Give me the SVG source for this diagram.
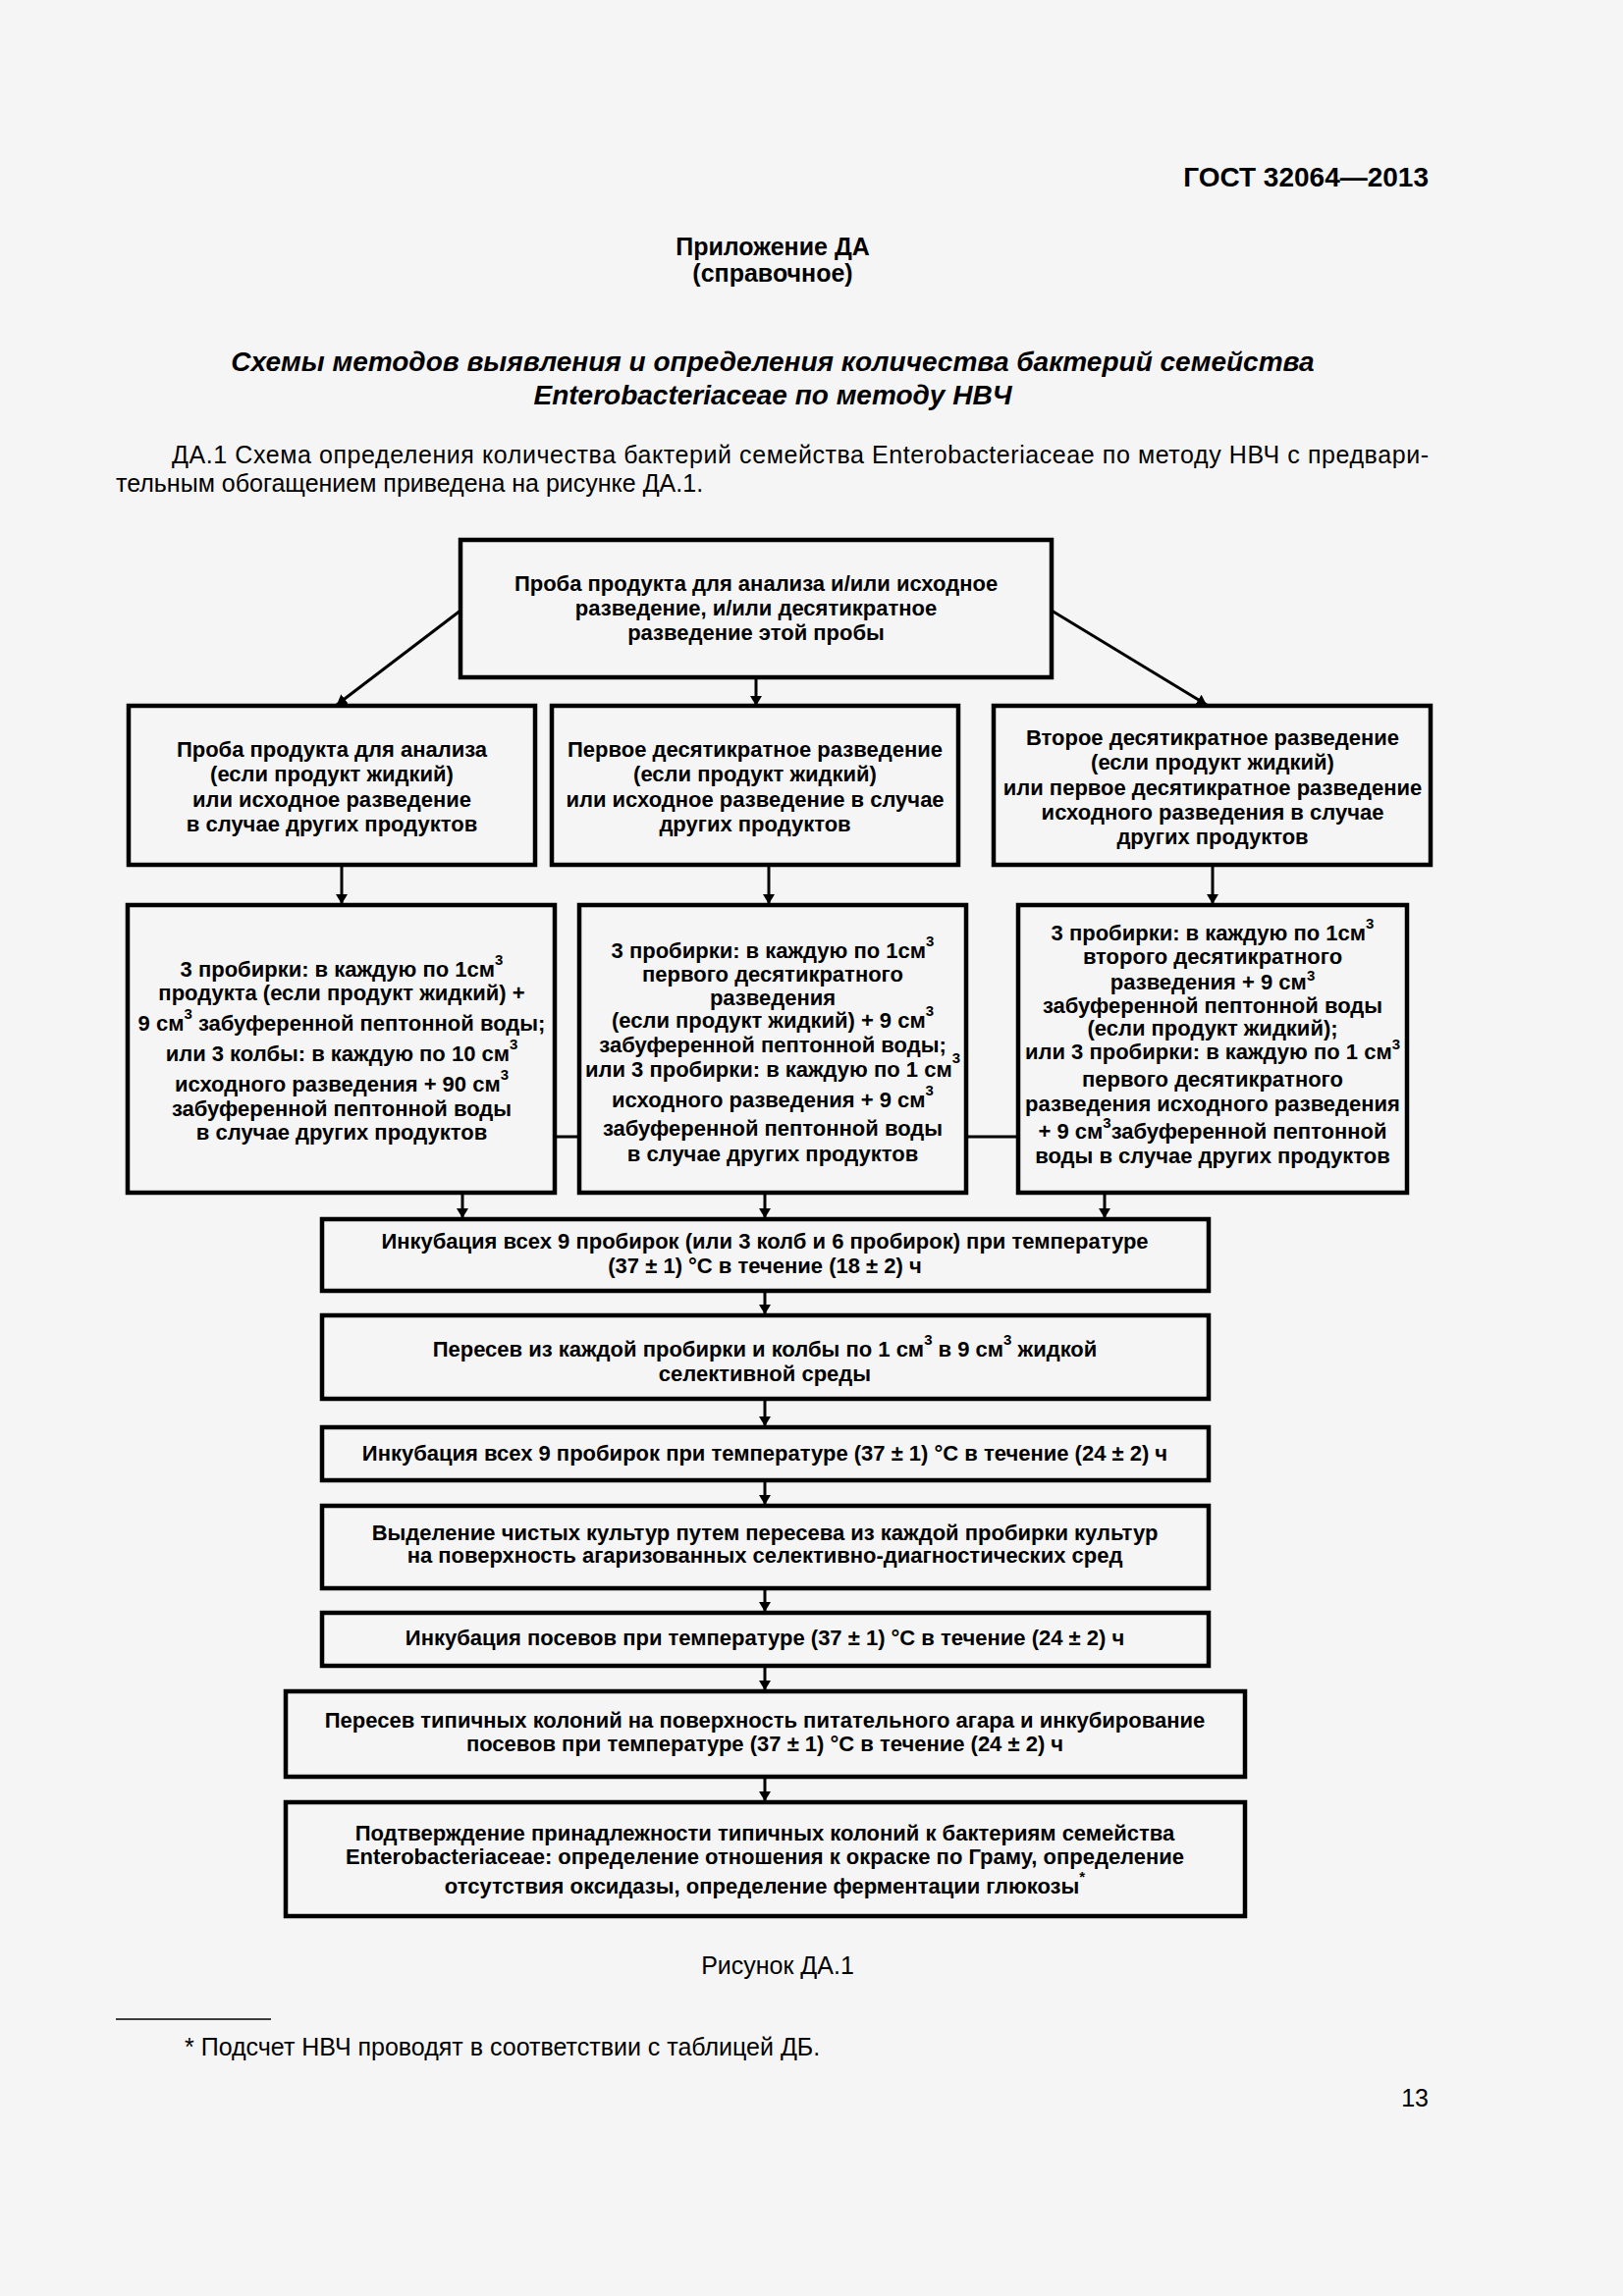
<svg xmlns="http://www.w3.org/2000/svg" width="1653" height="2339" viewBox="0 0 1653 2339">
<defs>
<style>
.bx{fill:none;stroke:#000;stroke-width:4.5}
.t{font-family:"Liberation Sans",Arial,sans-serif;font-size:22px;font-weight:bold;text-anchor:middle;fill:#000}
.p{font-family:"Liberation Sans",Arial,sans-serif;font-size:25px;fill:#000}
.h{font-family:"Liberation Sans",Arial,sans-serif;font-weight:bold;fill:#000}
.c{fill:none;stroke:#000;stroke-width:3}
.s{font-size:15px}
</style>
<marker id="ar" viewBox="0 0 10 20" refX="10" refY="10" markerWidth="10" markerHeight="20" markerUnits="userSpaceOnUse" orient="auto">
<path d="M0,4 L10,10 L0,16 Z" fill="#000"/>
</marker>
</defs>
<rect width="1653" height="2339" fill="#f5f5f5"/>

<text class="h" x="1455" y="190" font-size="28" text-anchor="end">ГОСТ 32064—2013</text>
<text class="h" x="787" y="260" font-size="25" text-anchor="middle">Приложение ДА</text>
<text class="h" x="787" y="287" font-size="25" text-anchor="middle">(справочное)</text>
<text class="h" x="787" y="378" font-size="28" font-style="italic" text-anchor="middle">Схемы методов выявления и определения количества бактерий семейства</text>
<text class="h" x="787" y="412" font-size="28" font-style="italic" text-anchor="middle">Enterobacteriaceae по методу НВЧ</text>
<text class="p" x="175" y="472" textLength="1280" lengthAdjust="spacing">ДА.1 Схема определения количества бактерий семейства Enterobacteriaceae по методу НВЧ с предвари-</text>
<text class="p" x="118" y="501">тельным обогащением приведена на рисунке ДА.1.</text>

<g id="connectors">
<line class="c" x1="469" y1="622" x2="343" y2="718" marker-end="url(#ar)"/>
<line class="c" x1="770" y1="690" x2="770" y2="719" marker-end="url(#ar)"/>
<line class="c" x1="1071" y1="622" x2="1229" y2="718" marker-end="url(#ar)"/>
<line class="c" x1="348" y1="882" x2="348" y2="921" marker-end="url(#ar)"/>
<line class="c" x1="783" y1="882" x2="783" y2="921" marker-end="url(#ar)"/>
<line class="c" x1="1235" y1="882" x2="1235" y2="921" marker-end="url(#ar)"/>
<line class="c" x1="565" y1="1158" x2="590" y2="1158" stroke-width="4.5"/>
<line class="c" x1="984" y1="1158" x2="1037" y2="1158" stroke-width="4.5"/>
<line class="c" x1="471" y1="1215" x2="471" y2="1241" marker-end="url(#ar)"/>
<line class="c" x1="779" y1="1215" x2="779" y2="1241" marker-end="url(#ar)"/>
<line class="c" x1="1125" y1="1215" x2="1125" y2="1241" marker-end="url(#ar)"/>
<line class="c" x1="779" y1="1315" x2="779" y2="1339" marker-end="url(#ar)"/>
<line class="c" x1="779" y1="1425" x2="779" y2="1453" marker-end="url(#ar)"/>
<line class="c" x1="779" y1="1508" x2="779" y2="1533" marker-end="url(#ar)"/>
<line class="c" x1="779" y1="1618" x2="779" y2="1642" marker-end="url(#ar)"/>
<line class="c" x1="779" y1="1697" x2="779" y2="1722" marker-end="url(#ar)"/>
<line class="c" x1="779" y1="1810" x2="779" y2="1835" marker-end="url(#ar)"/>
</g>

<g id="n-top">
<rect class="bx" x="469" y="550" width="602" height="140"/>
<text class="t" x="770" y="602">Проба продукта для анализа и/или исходное</text>
<text class="t" x="770" y="627">разведение, и/или десятикратное</text>
<text class="t" x="770" y="652">разведение этой пробы</text>
</g>

<g id="n-a1">
<rect class="bx" x="131" y="719" width="414" height="162"/>
<text class="t" x="338" y="771">Проба продукта для анализа</text>
<text class="t" x="338" y="796">(если продукт жидкий)</text>
<text class="t" x="338" y="822">или исходное разведение</text>
<text class="t" x="338" y="847">в случае других продуктов</text>
</g>

<g id="n-b1">
<rect class="bx" x="562" y="719" width="414" height="162"/>
<text class="t" x="769" y="771">Первое десятикратное разведение</text>
<text class="t" x="769" y="796">(если продукт жидкий)</text>
<text class="t" x="769" y="822">или исходное разведение в случае</text>
<text class="t" x="769" y="847">других продуктов</text>
</g>

<g id="n-c1">
<rect class="bx" x="1012" y="719" width="445" height="162"/>
<text class="t" x="1235" y="759">Второе десятикратное разведение</text>
<text class="t" x="1235" y="784">(если продукт жидкий)</text>
<text class="t" x="1235" y="810">или первое десятикратное разведение</text>
<text class="t" x="1235" y="835">исходного разведения в случае</text>
<text class="t" x="1235" y="860">других продуктов</text>
</g>

<g id="n-a2">
<rect class="bx" x="130" y="922" width="435" height="293"/>
<text class="t" x="348" y="995">3 пробирки: в каждую по 1см<tspan class="s" dy="-12">3</tspan></text>
<text class="t" x="348" y="1019">продукта (если продукт жидкий) +</text>
<text class="t" x="348" y="1050">9 см<tspan class="s" dy="-12">3</tspan><tspan dy="12"> забуференной пептонной воды;</tspan></text>
<text class="t" x="348" y="1081">или 3 колбы: в каждую по 10 см<tspan class="s" dy="-12">3</tspan></text>
<text class="t" x="348" y="1112">исходного разведения + 90 см<tspan class="s" dy="-12">3</tspan></text>
<text class="t" x="348" y="1137">забуференной пептонной воды</text>
<text class="t" x="348" y="1161">в случае других продуктов</text>
</g>

<g id="n-b2">
<rect class="bx" x="590" y="922" width="394" height="293"/>
<text class="t" x="787" y="976">3 пробирки: в каждую по 1см<tspan class="s" dy="-12">3</tspan></text>
<text class="t" x="787" y="1000">первого десятикратного</text>
<text class="t" x="787" y="1024">разведения</text>
<text class="t" x="787" y="1047">(если продукт жидкий) + 9 см<tspan class="s" dy="-12">3</tspan></text>
<text class="t" x="787" y="1072">забуференной пептонной воды;</text>
<text class="t" x="787" y="1097">или 3 пробирки: в каждую по 1 см<tspan class="s" dy="-14">3</tspan></text>
<text class="t" x="787" y="1128">исходного разведения + 9 см<tspan class="s" dy="-12">3</tspan></text>
<text class="t" x="787" y="1157">забуференной пептонной воды</text>
<text class="t" x="787" y="1183">в случае других продуктов</text>
</g>

<g id="n-c2">
<rect class="bx" x="1037" y="922" width="396" height="293"/>
<text class="t" x="1235" y="958">3 пробирки: в каждую по 1см<tspan class="s" dy="-12">3</tspan></text>
<text class="t" x="1235" y="982">второго десятикратного</text>
<text class="t" x="1235" y="1008">разведения + 9 см<tspan class="s" dy="-9">3</tspan></text>
<text class="t" x="1235" y="1032">забуференной пептонной воды</text>
<text class="t" x="1235" y="1055">(если продукт жидкий);</text>
<text class="t" x="1235" y="1079">или 3 пробирки: в каждую по 1 см<tspan class="s" dy="-10">3</tspan></text>
<text class="t" x="1235" y="1107">первого десятикратного</text>
<text class="t" x="1235" y="1132">разведения исходного разведения</text>
<text class="t" x="1235" y="1160">+ 9 см<tspan class="s" dy="-11">3</tspan><tspan dy="11">забуференной пептонной</tspan></text>
<text class="t" x="1235" y="1185">воды в случае других продуктов</text>
</g>

<g id="n-inc1">
<rect class="bx" x="328" y="1242" width="903" height="73"/>
<text class="t" x="779" y="1272">Инкубация всех 9 пробирок (или 3 колб и 6 пробирок) при температуре</text>
<text class="t" x="779" y="1297">(37 ± 1) °С в течение (18 ± 2) ч</text>
</g>

<g id="n-pereses1">
<rect class="bx" x="328" y="1340" width="903" height="85"/>
<text class="t" x="779" y="1382">Пересев из каждой пробирки и колбы по 1 см<tspan class="s" dy="-12">3</tspan><tspan dy="12"> в 9 см</tspan><tspan class="s" dy="-12">3</tspan><tspan dy="12"> жидкой</tspan></text>
<text class="t" x="779" y="1407">селективной среды</text>
</g>

<g id="n-inc2">
<rect class="bx" x="328" y="1454" width="903" height="54"/>
<text class="t" x="779" y="1488">Инкубация всех 9 пробирок при температуре (37 ± 1) °С в течение (24 ± 2) ч</text>
</g>

<g id="n-isol">
<rect class="bx" x="328" y="1534" width="903" height="84"/>
<text class="t" x="779" y="1569">Выделение чистых культур путем пересева из каждой пробирки культур</text>
<text class="t" x="779" y="1592">на поверхность агаризованных селективно-диагностических сред</text>
</g>

<g id="n-inc3">
<rect class="bx" x="328" y="1643" width="903" height="54"/>
<text class="t" x="779" y="1676">Инкубация посевов при температуре (37 ± 1) °С в течение (24 ± 2) ч</text>
</g>

<g id="n-pereses2">
<rect class="bx" x="291" y="1723" width="977" height="87"/>
<text class="t" x="779" y="1760">Пересев типичных колоний на поверхность питательного агара и инкубирование</text>
<text class="t" x="779" y="1784">посевов при температуре (37 ± 1) °С в течение (24 ± 2) ч</text>
</g>

<g id="n-confirm">
<rect class="bx" x="291" y="1836" width="977" height="116"/>
<text class="t" x="779" y="1875">Подтверждение принадлежности типичных колоний к бактериям семейства</text>
<text class="t" x="779" y="1899">Enterobacteriaceae: определение отношения к окраске по Граму, определение</text>
<text class="t" x="779" y="1929">отсутствия оксидазы, определение ферментации глюкозы<tspan class="s" dy="-12">*</tspan></text>
</g>

<text class="p" x="792" y="2011" text-anchor="middle">Рисунок ДА.1</text>
<line x1="118" y1="2057" x2="276" y2="2057" stroke="#000" stroke-width="1.5"/>
<text class="p" x="188" y="2094">* Подсчет НВЧ проводят в соответствии с таблицей ДБ.</text>
<text class="p" x="1455" y="2146" text-anchor="end">13</text>
</svg>
